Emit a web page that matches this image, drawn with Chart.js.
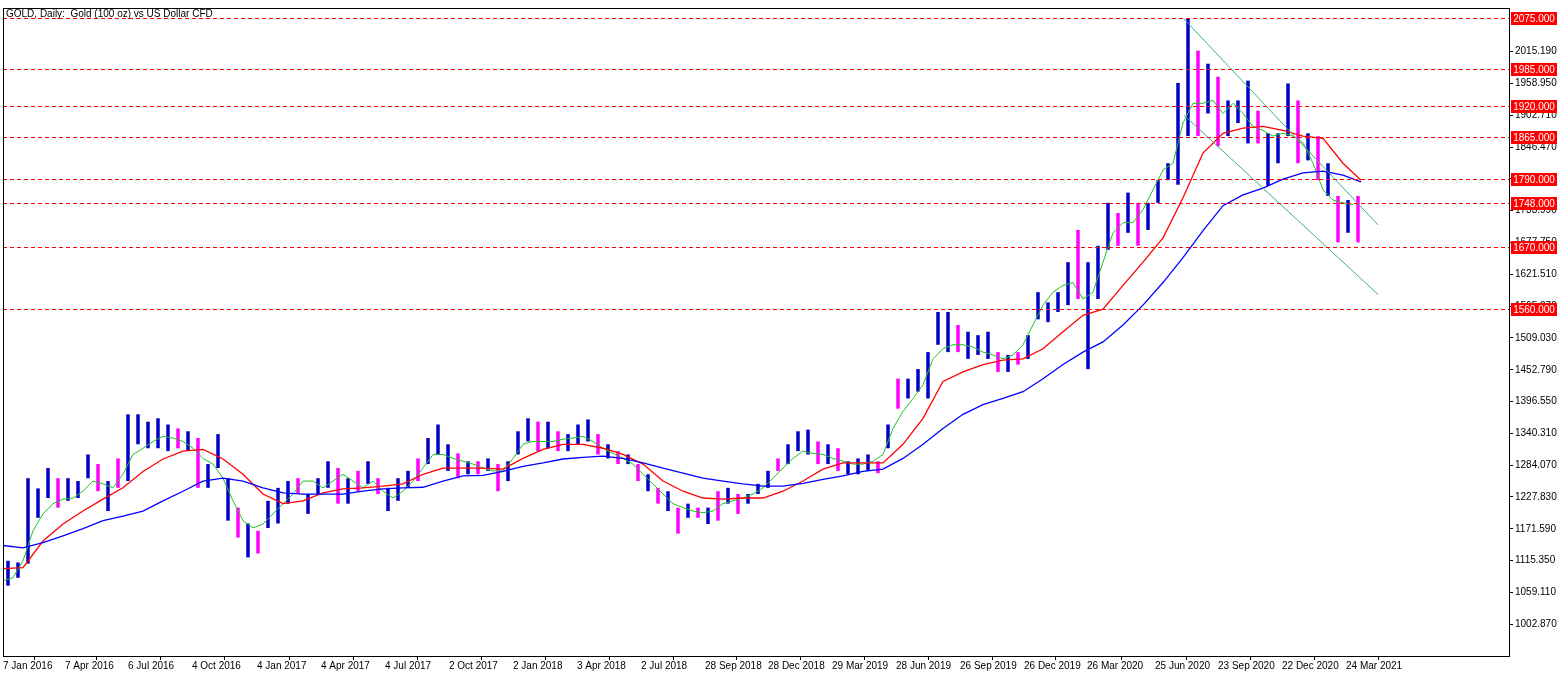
<!DOCTYPE html>
<html><head><meta charset="utf-8">
<script src="https://cdn.jsdelivr.net/npm/chart.js@4/dist/chart.umd.min.js"></script>
<style>html,body{margin:0;padding:0;background:#fff}#w{width:1567px;height:677px}</style>
</head><body><div id="w"><canvas id="c"></canvas></div>
<script>
const title = "GOLD, Daily:  Gold (100 oz) vs US Dollar CFD";
const barStep = 10;
const barHigh = [1115,1112,1261,1243,1279,1261,1261,1256,1303,1286,1256,1296,1374,1374,1361,1367,1356,1349,1344,1332,1286,1339,1261,1209,1181,1168,1221,1244,1256,1261,1233,1261,1291,1279,1261,1274,1291,1261,1244,1261,1274,1296,1332,1356,1321,1305,1291,1291,1296,1286,1291,1344,1367,1361,1361,1344,1339,1356,1365,1339,1321,1309,1303,1286,1268,1244,1238,1209,1216,1209,1209,1238,1244,1233,1233,1251,1274,1296,1321,1344,1347,1326,1321,1314,1291,1296,1303,1291,1356,1437,1437,1454,1484,1555,1555,1532,1520,1514,1520,1484,1479,1484,1514,1590,1572,1590,1643,1700,1643,1672,1748,1730,1766,1748,1748,1788,1818,1960,2073,2017,1994,1971,1929,1929,1964,1911,1871,1871,1959,1929,1871,1866,1818,1760,1753,1760];
const barLow = [1071,1085,1110,1191,1226,1209,1221,1226,1261,1238,1203,1244,1256,1321,1314,1314,1309,1314,1309,1244,1244,1279,1186,1156,1121,1128,1173,1181,1216,1233,1198,1233,1244,1216,1216,1238,1251,1233,1203,1221,1244,1256,1286,1303,1274,1261,1268,1268,1274,1238,1256,1303,1326,1309,1314,1309,1309,1321,1326,1303,1296,1286,1286,1256,1238,1216,1203,1163,1191,1191,1180,1186,1216,1198,1216,1233,1244,1274,1286,1309,1303,1286,1286,1274,1268,1268,1274,1270,1314,1384,1402,1414,1402,1497,1484,1484,1472,1479,1472,1449,1449,1462,1472,1542,1537,1555,1567,1578,1454,1578,1665,1672,1695,1672,1700,1748,1788,1780,1866,1866,1906,1848,1866,1889,1853,1853,1778,1818,1866,1818,1823,1788,1760,1678,1695,1678];
const fastStep = 10;
const fastMA = [1080,1085,1115,1168,1198,1216,1224,1226,1238,1256,1251,1244,1268,1303,1314,1326,1335,1332,1326,1314,1296,1286,1261,1221,1186,1173,1180,1198,1216,1233,1256,1256,1244,1256,1268,1256,1244,1256,1238,1226,1238,1256,1279,1303,1303,1296,1291,1286,1279,1274,1274,1296,1321,1326,1326,1326,1330,1332,1335,1326,1314,1305,1296,1286,1268,1251,1233,1216,1209,1203,1200,1203,1216,1221,1226,1233,1244,1261,1279,1296,1309,1305,1303,1296,1291,1286,1286,1291,1303,1349,1379,1402,1426,1472,1490,1497,1497,1493,1484,1479,1472,1479,1497,1532,1567,1590,1602,1607,1578,1590,1643,1695,1713,1713,1736,1771,1806,1818,1889,1924,1924,1929,1906,1924,1906,1883,1876,1866,1871,1866,1854,1818,1771,1753,1748,1745];
const slowStep = 20;
const midMA = [1101,1103,1150,1180,1203,1224,1244,1273,1295,1309,1312,1295,1268,1233,1216,1221,1235,1242,1244,1247,1251,1268,1279,1279,1279,1277,1296,1312,1321,1321,1314,1303,1286,1256,1238,1226,1224,1226,1226,1238,1256,1277,1288,1288,1288,1321,1367,1432,1449,1462,1470,1472,1490,1520,1549,1560,1602,1643,1686,1757,1836,1871,1880,1883,1876,1866,1862,1818,1788];
const longMA = [1142,1138,1147,1159,1172,1186,1194,1203,1221,1238,1256,1261,1256,1244,1235,1233,1233,1233,1238,1242,1244,1245,1256,1265,1266,1273,1282,1288,1295,1298,1300,1296,1288,1279,1270,1261,1256,1251,1247,1247,1252,1259,1265,1273,1277,1296,1321,1349,1374,1391,1402,1414,1437,1462,1484,1502,1532,1567,1607,1651,1699,1743,1762,1774,1790,1801,1804,1797,1785];
const channelX = [1181, 1375];
const channelUpper = [2073, 1709];
const channelLower = [1903, 1586];
const levels = [2075, 1985, 1920, 1865, 1790, 1748, 1670, 1560];
const yTicks = [2015.19,1958.95,1902.71,1846.47,1790.23,1733.99,1677.75,1621.51,1565.27,1509.03,1452.79,1396.55,1340.31,1284.07,1227.83,1171.59,1115.35,1059.11,1002.87];
const xTickPos = [0,62,125,189,254,318,382,446,510,574,638,702,765,829,893,957,1021,1084,1152,1215,1279,1343];
const xTickLabels = ["7 Jan 2016","7 Apr 2016","6 Jul 2016","4 Oct 2016","4 Jan 2017","4 Apr 2017","4 Jul 2017","2 Oct 2017","2 Jan 2018","3 Apr 2018","2 Jul 2018","28 Sep 2018","28 Dec 2018","29 Mar 2019","28 Jun 2019","26 Sep 2019","26 Dec 2019","26 Mar 2020","25 Jun 2020","23 Sep 2020","22 Dec 2020","24 Mar 2021"];

const FONT = '"Liberation Sans", Arial, sans-serif';
const bars = barHigh.map((h,i)=>({x: i*barStep + 5, y: [barLow[i], h]}));
const barColors = barHigh.map((h,i)=>{
  const m=(h+barLow[i])/2; const p=i>0?(barHigh[i-1]+barLow[i-1])/2:m;
  return (m>=p && i%3!==2) ? '#0000C8' : (i%2? '#FF00FF':'#0000C8');
});
const pts=(arr,step,lastX)=>arr.map((v,i)=>({x:(lastX!==undefined && i===arr.length-1)?lastX:i*step,y:v}));

const overlay = {
  id:'overlay',
  afterDatasetsDraw(ch){
    const {ctx,chartArea:a,scales:{y}}=ch;
    ctx.save();
    ctx.strokeStyle='#FF0000'; ctx.lineWidth=1; ctx.setLineDash([4,3]);
    levels.forEach(l=>{const py=Math.round(y.getPixelForValue(l))+0.5;
      ctx.beginPath();ctx.moveTo(a.left,py);ctx.lineTo(a.right,py);ctx.stroke();});
    ctx.setLineDash([]);
    ctx.strokeStyle='#000';ctx.strokeRect(a.left+0.5,a.top+0.5,a.right-a.left,a.bottom-a.top);
    ctx.font='10px '+FONT;ctx.textBaseline='middle';
    levels.forEach(l=>{const py=Math.round(y.getPixelForValue(l));
      ctx.fillStyle='#FF0000';ctx.fillRect(a.right+2,py-6,46,13);
      ctx.fillStyle='#fff';ctx.textAlign='center';ctx.fillText(l.toFixed(3),a.right+25,py+1);});
    ctx.fillStyle='#000';ctx.textAlign='left';ctx.fillText(title,a.left+3,a.top+6);
    ctx.restore();
  }
};

new Chart(document.getElementById('c'),{
  data:{datasets:[
    {type:'bar',data:bars,backgroundColor:barColors,barPercentage:0.35,categoryPercentage:1,order:5,grouped:false},
    {type:'line',data:pts(longMA,slowStep,1358),borderColor:'#0000FF',borderWidth:1.3,pointRadius:0,order:1},
    {type:'line',data:pts(midMA,slowStep,1358),borderColor:'#FF0000',borderWidth:1.3,pointRadius:0,order:2},
    {type:'line',data:pts(fastMA,fastStep),borderColor:'#22C022',borderWidth:1,pointRadius:0,order:3},
    {type:'line',data:channelX.map((x,i)=>({x,y:channelUpper[i]})),borderColor:'#3CB371',borderWidth:1,pointRadius:0,order:0},
    {type:'line',data:channelX.map((x,i)=>({x,y:channelLower[i]})),borderColor:'#3CB371',borderWidth:1,pointRadius:0,order:0}
  ]},
  options:{
    responsive:true,maintainAspectRatio:false,animation:false,
    layout:{padding:{left:3,top:4,right:0,bottom:0}},
    plugins:{legend:{display:false},tooltip:{enabled:false}},
    scales:{
      x:{type:'linear',min:0,max:1506,offset:false,
        grid:{drawOnChartArea:false,tickLength:4,color:'#000'},border:{display:false},
        afterBuildTicks(s){s.ticks=xTickPos.map(v=>({value:v}));},
        afterFit(s){s.height=21;},
        ticks:{autoSkip:false,maxRotation:0,align:'start',padding:0,color:'#000',font:{family:FONT,size:10},
          callback:(v)=>{const i=xTickPos.indexOf(v);return i>=0?xTickLabels[i]:'';}}},
      y:{position:'right',min:946.63,max:2092.5,
        grid:{drawOnChartArea:false,tickLength:4,color:'#000'},border:{display:false},
        afterBuildTicks(s){s.ticks=yTicks.map(v=>({value:v}));},
        afterFit(s){s.width=58;},
        ticks:{autoSkip:false,padding:2,color:'#000',font:{family:FONT,size:10},callback:v=>v.toFixed(3)}}
    }
  },
  plugins:[overlay]
});
</script></body></html>
